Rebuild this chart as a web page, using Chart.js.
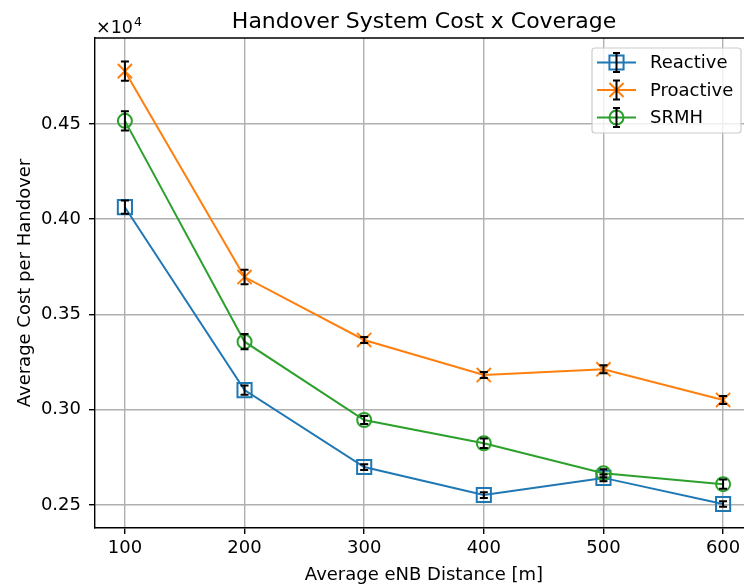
<!DOCTYPE html>
<html>
<head>
<meta charset="utf-8">
<title>Handover System Cost x Coverage</title>
<script src="https://cdn.jsdelivr.net/npm/chart.js@4"></script>
<style>
    html, body { margin: 0; padding: 0; background: #fff; overflow: hidden; }
    #wrap { width: 770px; height: 585px; }
</style>
</head>
<body>
<div id="wrap"><canvas id="handoverCostChart" width="770" height="585"></canvas></div>
<script>
const distances = [100, 200, 300, 400, 500, 600];

const reactiveCost = [4063, 3103, 2699, 2552, 2642, 2505];
const reactiveErr = [35, 24, 15, 15, 18, 15];
const proactiveCost = [4777, 3696, 3366, 3182, 3212, 3051];
const proactiveErr = [50, 38, 16, 16, 21, 21];
const srmhCost = [4516, 3357, 2946, 2824, 2666, 2609];
const srmhErr = [51, 40, 21, 25, 21, 24];

const xTicks = [100, 200, 300, 400, 500, 600];
const yTicks = [2500, 3000, 3500, 4000, 4500];
const yTickLabels = ['0.25', '0.30', '0.35', '0.40', '0.45'];

const FONT = 'DejaVu Sans';

function makeSeries(label, values, errors, color, style, radius, order) {
    return {
        label: label,
        data: values.map((v, i) => ({ x: distances[i], y: v })),
        errors: errors,
        borderColor: color,
        borderWidth: 2,
        fill: false,
        tension: 0,
        pointStyle: style,
        pointRadius: radius,
        pointHoverRadius: radius,
        pointBorderWidth: 2,
        pointBorderColor: color,
        pointBackgroundColor: 'rgba(0,0,0,0)',
        order: order
    };
}

// small marker for the legend rows, same shapes as the line points
function drawMarker(ctx, style, x, y, radius) {
    ctx.beginPath();
    if (style === 'rect') {
        const s = radius * Math.SQRT1_2;
        ctx.rect(x - s, y - s, 2 * s, 2 * s);
    } else if (style === 'circle') {
        ctx.arc(x, y, radius, 0, Math.PI * 2);
    } else {
        const s = radius * Math.SQRT1_2;
        ctx.moveTo(x - s, y - s); ctx.lineTo(x + s, y + s);
        ctx.moveTo(x - s, y + s); ctx.lineTo(x + s, y - s);
    }
    ctx.stroke();
}

function drawErrorBar(ctx, x, yTop, yBottom, cap) {
    ctx.beginPath();
    ctx.moveTo(x, yTop); ctx.lineTo(x, yBottom);
    ctx.moveTo(x - cap, yTop); ctx.lineTo(x + cap, yTop);
    ctx.moveTo(x - cap, yBottom); ctx.lineTo(x + cap, yBottom);
    ctx.stroke();
}

const errorBarsAndDecor = {
    id: 'errorBarsAndDecor',
    afterDatasetsDraw(chart) {
        const ctx = chart.ctx;
        const x = chart.scales.x;
        const y = chart.scales.y;
        ctx.save();
        ctx.strokeStyle = '#000';
        ctx.lineWidth = 2;
        chart.data.datasets.forEach(ds => {
            ds.data.forEach((pt, i) => {
                const px = x.getPixelForValue(pt.x);
                drawErrorBar(ctx, px,
                    y.getPixelForValue(pt.y + ds.errors[i]),
                    y.getPixelForValue(pt.y - ds.errors[i]), 4);
            });
        });
        ctx.restore();
    },
    afterDraw(chart) {
        const ctx = chart.ctx;
        const area = chart.chartArea;
        ctx.save();

        // top and right spines
        ctx.strokeStyle = '#000';
        ctx.lineWidth = 1.4;
        ctx.beginPath();
        ctx.moveTo(area.left, area.top); ctx.lineTo(area.right, area.top);
        ctx.lineTo(area.right, area.bottom);
        ctx.stroke();

        // title
        ctx.fillStyle = '#000';
        ctx.font = '22px "' + FONT + '"';
        ctx.textAlign = 'center';
        ctx.textBaseline = 'alphabetic';
        ctx.fillText('Handover System Cost x Coverage', (area.left + area.right) / 2, 28);

        // scale factor of the y axis
        ctx.textAlign = 'left';
        ctx.font = '17.5px "' + FONT + '"';
        ctx.fillText('\u00d710', 96, 33);
        const w = ctx.measureText('\u00d710').width;
        ctx.font = '12.5px "' + FONT + '"';
        ctx.fillText('4', 96 + w + 1, 26);

        // legend
        const box = { left: 592, top: 48, right: 741, bottom: 133 };
        ctx.beginPath();
        ctx.roundRect(box.left, box.top, box.right - box.left, box.bottom - box.top, 3);
        ctx.fillStyle = 'rgba(255,255,255,0.8)';
        ctx.fill();
        ctx.strokeStyle = '#cccccc';
        ctx.lineWidth = 1.2;
        ctx.stroke();

        chart.data.datasets.forEach((ds, i) => {
            const rowY = 62.5 + 27.5 * i;
            ctx.strokeStyle = ds.borderColor;
            ctx.lineWidth = 2;
            ctx.beginPath();
            ctx.moveTo(597, rowY); ctx.lineTo(636, rowY);
            ctx.stroke();
            drawMarker(ctx, ds.pointStyle, 616.5, rowY, ds.pointRadius);
            ctx.strokeStyle = '#000';
            drawErrorBar(ctx, 616.5, rowY - 9.5, rowY + 9.5, 3.5);
            ctx.fillStyle = '#000';
            ctx.font = '18px "' + FONT + '"';
            ctx.textBaseline = 'middle';
            ctx.fillText(ds.label, 650, rowY + 1);
        });
        ctx.restore();
    }
};

const context = document.getElementById('handoverCostChart').getContext('2d');
new Chart(context, {
    type: 'line',
    data: {
        datasets: [
            makeSeries('Reactive', reactiveCost, reactiveErr, '#1f77b4', 'rect', 10, 3),
            makeSeries('Proactive', proactiveCost, proactiveErr, '#ff7f0e', 'crossRot', 10, 2),
            makeSeries('SRMH', srmhCost, srmhErr, '#2ca02c', 'circle', 7, 1)
        ]
    },
    options: {
        responsive: false,
        animation: false,
        events: [],
        layout: { padding: { top: 38, right: 17, left: 0, bottom: 0 } },
        plugins: {
            legend: { display: false },
            title: { display: false },
            tooltip: { enabled: false }
        },
        scales: {
            x: {
                type: 'linear',
                min: 75,
                max: 625,
                afterBuildTicks: scale => { scale.ticks = xTicks.map(v => ({ value: v })); },
                afterFit: scale => { scale.height = 57; },
                grid: { color: '#b0b0b0', lineWidth: 1.4, tickColor: '#000', tickLength: 6 },
                border: { color: '#000', width: 1.4 },
                ticks: {
                    color: '#000',
                    font: { family: FONT, size: 18 },
                    padding: 4,
                    maxRotation: 0
                },
                title: {
                    display: true,
                    text: 'Average eNB Distance [m]',
                    color: '#000',
                    font: { family: FONT, size: 18, lineHeight: 1.1 },
                    padding: { top: 0, bottom: 0 }
                }
            },
            y: {
                min: 2379,
                max: 4951,
                afterBuildTicks: scale => { scale.ticks = yTicks.map(v => ({ value: v })); },
                afterFit: scale => { scale.width = 95; },
                grid: { color: '#b0b0b0', lineWidth: 1.4, tickColor: '#000', tickLength: 6 },
                border: { color: '#000', width: 1.4 },
                ticks: {
                    color: '#000',
                    font: { family: FONT, size: 18 },
                    padding: 8,
                    callback: v => yTickLabels[yTicks.indexOf(v)]
                },
                title: {
                    display: true,
                    text: 'Average Cost per Handover',
                    color: '#000',
                    font: { family: FONT, size: 18 },
                    padding: { top: 15, bottom: 0 }
                }
            }
        }
    },
    plugins: [errorBarsAndDecor]
});
</script>
</body>
</html>
